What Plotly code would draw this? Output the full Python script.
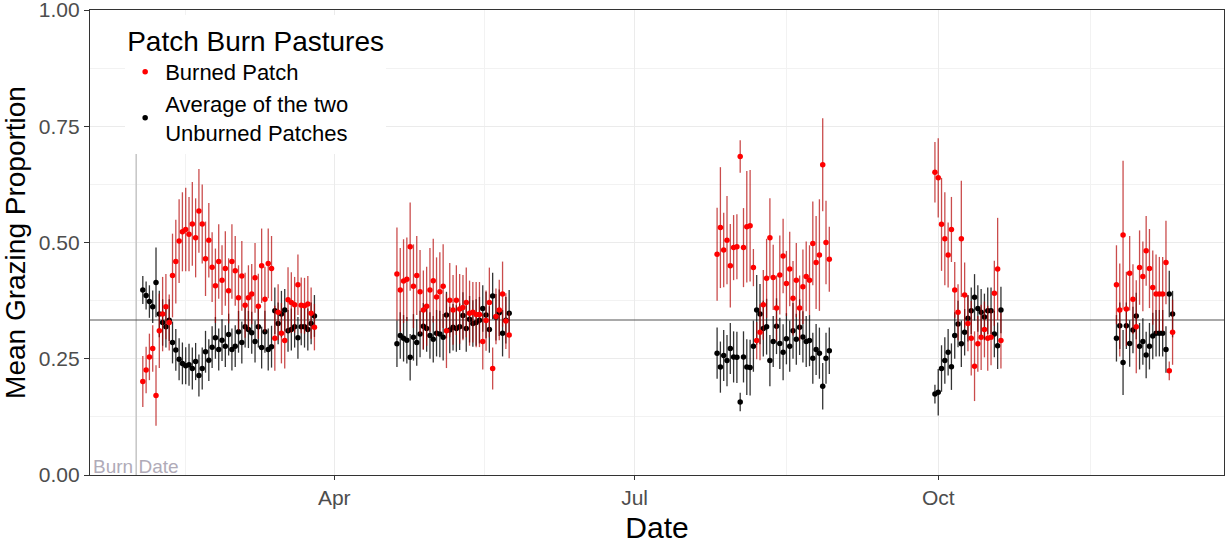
import pandas as pd
import plotly.graph_objects as go

# ---- data ----
cluster_starts = ["2018-02-02", "2018-04-20", "2018-07-26", "2018-09-30", "2018-11-24"]
cluster_lengths = [53, 35, 35, 21, 18]

burned_mean = [
    # Feb-Mar
    0.201, 0.226, 0.254, 0.272, 0.171, 0.310, 0.346, 0.362, 0.328, 0.429,
    0.459, 0.503, 0.523, 0.528, 0.518, 0.540, 0.510, 0.568, 0.540, 0.465,
    0.505, 0.447, 0.407, 0.459, 0.419, 0.444, 0.396, 0.459, 0.439, 0.381,
    0.428, 0.365, 0.381, 0.389, 0.424, 0.363, 0.450, 0.378, 0.455, 0.444,
    0.294, 0.350, 0.305, 0.289, 0.377, 0.371, 0.366, 0.409, 0.365, 0.364,
    0.368, 0.348, 0.318,
    # Apr-May
    0.432, 0.398, 0.417, 0.421, 0.491, 0.406, 0.429, 0.394, 0.355, 0.363,
    0.398, 0.418, 0.383, 0.394, 0.406, 0.310, 0.376, 0.355, 0.376, 0.357,
    0.360, 0.371, 0.348, 0.350, 0.345, 0.345, 0.287, 0.332, 0.371, 0.229,
    0.341, 0.355, 0.389, 0.331, 0.301,
    # Jul-Aug
    0.475, 0.532, 0.484, 0.505, 0.450, 0.489, 0.491, 0.685, 0.489, 0.534,
    0.536, 0.446, 0.289, 0.307, 0.366, 0.423, 0.510, 0.425, 0.359, 0.430,
    0.471, 0.412, 0.443, 0.380, 0.419, 0.359, 0.405, 0.427, 0.419, 0.498,
    0.457, 0.473, 0.667, 0.500, 0.464,
    # Sep-Oct
    0.651, 0.639, 0.539, 0.508, 0.473, 0.528, 0.398, 0.350, 0.508, 0.387,
    0.326, 0.294, 0.234, 0.282, 0.296, 0.313, 0.294, 0.296, 0.391, 0.443,
    0.289,
    # Nov-Dec
    0.409, 0.355, 0.516, 0.357, 0.434, 0.378, 0.319, 0.446, 0.427, 0.482,
    0.444, 0.403, 0.389, 0.389, 0.389, 0.457, 0.224, 0.307,
]
burned_err = [
    0.055, 0.05, 0.05, 0.05, 0.065, 0.08, 0.08, 0.07, 0.06, 0.09,
    0.09, 0.09, 0.085, 0.09, 0.08, 0.09, 0.085, 0.09, 0.085, 0.08,
    0.08, 0.075, 0.08, 0.08, 0.075, 0.08, 0.07, 0.08, 0.075, 0.07,
    0.075, 0.07, 0.07, 0.065, 0.075, 0.07, 0.08, 0.07, 0.075, 0.07,
    0.07, 0.06, 0.065, 0.06, 0.07, 0.065, 0.06, 0.065, 0.06, 0.06,
    0.06, 0.055, 0.05,
    0.1, 0.09, 0.09, 0.09, 0.095, 0.09, 0.085, 0.09, 0.085, 0.085,
    0.09, 0.09, 0.085, 0.085, 0.09, 0.08, 0.08, 0.075, 0.075, 0.075,
    0.07, 0.075, 0.07, 0.065, 0.07, 0.07, 0.06, 0.065, 0.075, 0.045,
    0.06, 0.065, 0.07, 0.06, 0.05,
    0.1, 0.13, 0.08, 0.095, 0.09, 0.07, 0.07, 0.035, 0.085, 0.12,
    0.12, 0.04, 0.04, 0.06, 0.075, 0.085, 0.085, 0.07, 0.07, 0.085,
    0.08, 0.07, 0.08, 0.08, 0.08, 0.07, 0.08, 0.075, 0.075, 0.09,
    0.1, 0.12, 0.1, 0.09, 0.07,
    0.065, 0.085, 0.1, 0.1, 0.07, 0.07, 0.06, 0.06, 0.125, 0.07,
    0.06, 0.08, 0.075, 0.06, 0.07, 0.06, 0.07, 0.06, 0.07, 0.11,
    0.06,
    0.085, 0.1, 0.16, 0.08, 0.08, 0.075, 0.1, 0.08, 0.075, 0.075,
    0.085, 0.08, 0.085, 0.08, 0.08, 0.09, 0.02, 0.07,
]
unburned_mean = [
    0.398, 0.386, 0.373, 0.362, 0.414, 0.346, 0.328, 0.319, 0.333, 0.285,
    0.269, 0.249, 0.240, 0.235, 0.237, 0.229, 0.244, 0.214, 0.229, 0.265,
    0.247, 0.275, 0.295, 0.270, 0.290, 0.277, 0.302, 0.270, 0.277, 0.308,
    0.285, 0.319, 0.313, 0.306, 0.287, 0.319, 0.274, 0.308, 0.270, 0.276,
    0.353, 0.326, 0.346, 0.355, 0.310, 0.313, 0.319, 0.295, 0.319, 0.319,
    0.313, 0.326, 0.342,
    0.282, 0.300, 0.294, 0.290, 0.253, 0.296, 0.285, 0.303, 0.320, 0.315,
    0.300, 0.292, 0.305, 0.303, 0.296, 0.344, 0.312, 0.318, 0.315, 0.319,
    0.343, 0.315, 0.335, 0.326, 0.328, 0.333, 0.358, 0.344, 0.313, 0.385,
    0.339, 0.349, 0.305, 0.333, 0.348,
    0.262, 0.232, 0.257, 0.246, 0.272, 0.254, 0.253, 0.157, 0.254, 0.232,
    0.231, 0.277, 0.355, 0.346, 0.315, 0.319, 0.246, 0.287, 0.320, 0.283,
    0.264, 0.293, 0.277, 0.310, 0.292, 0.318, 0.297, 0.287, 0.289, 0.251,
    0.270, 0.262, 0.191, 0.251, 0.267,
    0.174, 0.178, 0.229, 0.246, 0.264, 0.233, 0.300, 0.325, 0.282, 0.307,
    0.337, 0.353, 0.382, 0.358, 0.350, 0.340, 0.353, 0.353, 0.303, 0.278,
    0.355,
    0.294, 0.321, 0.242, 0.321, 0.283, 0.312, 0.342, 0.277, 0.287, 0.258,
    0.277, 0.299, 0.305, 0.305, 0.305, 0.270, 0.389, 0.346,
]
unburned_err = [
    0.03, 0.03, 0.035, 0.035, 0.075, 0.05, 0.05, 0.045, 0.045, 0.045,
    0.045, 0.045, 0.045, 0.04, 0.045, 0.045, 0.04, 0.045, 0.045, 0.045,
    0.045, 0.045, 0.045, 0.045, 0.045, 0.045, 0.045, 0.045, 0.045, 0.045,
    0.045, 0.045, 0.04, 0.045, 0.045, 0.045, 0.045, 0.045, 0.045, 0.045,
    0.05, 0.045, 0.05, 0.045, 0.045, 0.045, 0.045, 0.045, 0.04, 0.045,
    0.045, 0.045, 0.045,
    0.05, 0.05, 0.05, 0.05, 0.05, 0.05, 0.05, 0.05, 0.05, 0.05,
    0.05, 0.05, 0.05, 0.05, 0.05, 0.05, 0.05, 0.05, 0.05, 0.05,
    0.05, 0.05, 0.05, 0.05, 0.05, 0.05, 0.05, 0.05, 0.05, 0.05,
    0.05, 0.05, 0.05, 0.05, 0.05,
    0.055, 0.055, 0.055, 0.055, 0.055, 0.055, 0.055, 0.02, 0.055, 0.06,
    0.06, 0.055, 0.075, 0.065, 0.06, 0.06, 0.055, 0.055, 0.06, 0.055,
    0.06, 0.055, 0.055, 0.06, 0.055, 0.06, 0.055, 0.055, 0.055, 0.055,
    0.055, 0.055, 0.05, 0.055, 0.05,
    0.02, 0.05, 0.05, 0.05, 0.05, 0.05, 0.05, 0.05, 0.05, 0.05,
    0.05, 0.05, 0.05, 0.05, 0.05, 0.05, 0.05, 0.05, 0.05, 0.05,
    0.05,
    0.05, 0.05, 0.07, 0.05, 0.05, 0.05, 0.05, 0.05, 0.05, 0.05,
    0.05, 0.05, 0.05, 0.05, 0.05, 0.05, 0.05, 0.05,
]

expected_proportion = 1 / 3
burn_date = "2018-01-31"
burn_line_top = 0.705
x_range = ["2018-01-17", "2018-12-26 14:00"]
minor_x_breaks = ["2018-02-15", "2018-05-16 12:00", "2018-08-16", "2018-11-16"]

dates = []
for start, n in zip(cluster_starts, cluster_lengths):
    dates.extend(pd.date_range(start, periods=n, freq="D"))

FONT = "Liberation Sans, Arial, sans-serif"

fig = go.Figure()

# burn date reference line
fig.add_trace(go.Scatter(
    x=[burn_date, burn_date], y=[0, burn_line_top], mode="lines",
    line=dict(color="#c8c8c8", width=1.6), showlegend=False, hoverinfo="skip"))

# expected proportion line
fig.add_trace(go.Scatter(
    x=x_range, y=[expected_proportion, expected_proportion], mode="lines",
    line=dict(color="#555555", width=1.2), showlegend=False, hoverinfo="skip"))

fig.add_trace(go.Scatter(
    x=dates, y=unburned_mean, mode="markers",
    name="Average of the two<br>Unburned Patches",
    marker=dict(color="black", size=5.5),
    error_y=dict(type="data", array=unburned_err, visible=True,
                 color="rgba(0,0,0,0.8)", thickness=1.3, width=0)))

fig.add_trace(go.Scatter(
    x=dates, y=burned_mean, mode="markers", name="Burned Patch",
    marker=dict(color="#ff0000", size=5.5),
    error_y=dict(type="data", array=burned_err, visible=True,
                 color="rgba(180,0,0,0.7)", thickness=1.3, width=0)))

fig.add_annotation(x=burn_date, y=0, text="Burn Date", showarrow=False,
                   xanchor="center", yanchor="bottom", yshift=-4,
                   font=dict(family=FONT, size=19, color="#b0abb8"))

fig.update_layout(
    width=1228, height=544,
    margin=dict(l=90, r=4, t=10, b=69),
    paper_bgcolor="white", plot_bgcolor="white",
    font=dict(family=FONT, color="black"),
    showlegend=True,
    legend=dict(
        x=0.031, y=0.99, xanchor="left", yanchor="top",
        bgcolor="white", borderwidth=0, traceorder="reversed",
        title=dict(text="Patch Burn Pastures", font=dict(size=28, color="black")),
        font=dict(size=22, color="black"), itemwidth=30, tracegroupgap=0),
    xaxis=dict(
        type="date", range=x_range, tick0="2018-01-01", dtick="M3",
        tickformat="%b", showgrid=True, gridcolor="#ebebeb", gridwidth=1.1,
        minor=dict(tickmode="array", tickvals=minor_x_breaks, showgrid=True,
                   gridcolor="#f2f2f2", gridwidth=0.7, ticks=""),
        ticks="outside", ticklen=4, tickcolor="#333333", tickwidth=1.1,
        tickfont=dict(size=21, color="#4d4d4d"), ticklabeloverflow="allow",
        showline=True, linecolor="#333333", linewidth=1.2, mirror=True,
        zeroline=False, automargin=False,
        title=dict(text="Date", font=dict(size=30, color="black"), standoff=8)),
    yaxis=dict(
        range=[0, 1], tickvals=[0, 0.25, 0.5, 0.75, 1.0],
        ticktext=["0.00", "0.25", "0.50", "0.75", "1.00"],
        showgrid=True, gridcolor="#ebebeb", gridwidth=1.1,
        minor=dict(tickmode="array", tickvals=[0.125, 0.375, 0.625, 0.875],
                   showgrid=True, gridcolor="#f2f2f2", gridwidth=0.7, ticks=""),
        ticks="outside", ticklen=5, tickcolor="#333333", tickwidth=1.1,
        tickfont=dict(size=21, color="#4d4d4d"), ticklabeloverflow="allow",
        showline=True, linecolor="#333333", linewidth=1.2, mirror=True,
        zeroline=False, automargin=False,
        title=dict(text="Mean Grazing Proportion", font=dict(size=28, color="black"),
                   standoff=8)),
)

# remove the default 8px page margin so the figure sits at the window origin
fig.write_html("out.html", config={"displayModeBar": False},
               post_script="document.body.style.margin='0';")
